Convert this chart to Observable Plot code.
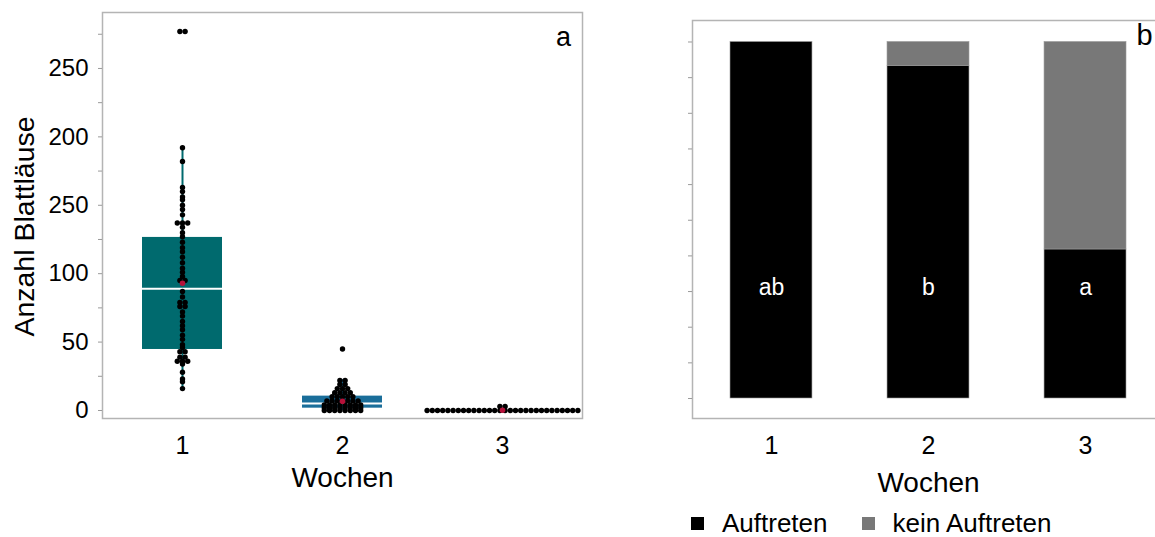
<!DOCTYPE html>
<html>
<head>
<meta charset="utf-8">
<script src="https://cdn.jsdelivr.net/npm/d3@7"></script>
<script src="https://cdn.jsdelivr.net/npm/@observablehq/plot@0.6"></script>
<style>
  html, body { margin: 0; padding: 0; background: #fff; overflow: hidden; width: 1155px; height: 537px; }
  #left { position: absolute; left: 0; top: 0; width: 600px; }
  #right { position: absolute; left: 620px; top: 0; width: 544px; }
  #left svg, #right svg { max-width: none !important; }
  #legend { position: absolute; left: 691px; top: 507px; width: 460px; }
  #legend svg { margin-right: 18px !important; }
  #legend span { margin-right: 34px !important; }
</style>
</head>
<body>
<div id="left"></div>
<div id="right"></div>
<div id="legend"></div>
<script>
const font = "'Liberation Sans', Arial, sans-serif";

// ---- Panel a: aphid counts per plant, by week ----
const weeks = [1, 2, 3];
const week1Counts = [277, 277, 192, 182, 163, 160, 156, 154, 150, 147, 143, 137, 137, 137, 134, 130,
  127, 123, 119, 116, 112, 108, 104, 101, 98, 95, 95, 87, 83, 79, 79, 76, 76, 72, 69, 65, 62, 59,
  55, 52, 48, 46, 43, 43, 39, 39, 36, 36, 36, 34, 28, 23, 21, 16];
const week2Counts = [45, 22, 22, 19, 19, 16, 16, 16, 13, 13, 13, 13, 10, 10, 10, 10, 10,
  7, 7, 7, 7, 7, 7, 7, 4, 4, 4, 4, 4, 4, 4, 4, 2, 2, 2, 2, 2, 2, 2, 2, 0, 0, 0, 0, 0, 0, 0, 0];
const week3Counts = [3, 3, 0, 0, 0, 0, 0, 0, 0, 0, 0, 0, 0, 0, 0, 0, 0, 0, 0, 0, 0, 0, 0, 0,
  0, 0, 0, 0, 0, 0, 0, 0];

// box statistics per week
const boxQ1 = [44.6, 1.7, 0];
const boxMedian = [89, 5.1, 0];
const boxQ3 = [126.5, 10.5, 0];
const whiskerLow = [16, 0, 0];
const whiskerHigh = [192, 22.5, 0];
const meanCounts = [93, 6.8, 0.2];
const boxColors = ["#006a6e", "#1a6e9a", "#1a6e9a"];

const yTicks = [0, 50, 100, 150, 200, 250];
const yTickLabels = ["0", "50", "100", "250", "200", "250"];
const yMinorTicks = [25, 75, 125, 175, 225, 275];

// ---- Panel b: share of plants with / without aphids ----
const statuses = ["Auftreten", "kein Auftreten"];
const statusColors = ["#000000", "#787878"];
const occurrencePct = [100, 93.3, 41.8];
const noOccurrencePct = [0, 6.7, 58.2];
const groupLetters = ["ab", "b", "a"];
const pctTicks = [0, 10, 20, 30, 40, 50, 60, 70, 80, 90, 100];

// lay equal counts side by side around the week position
function stackDots(counts, week, step) {
  const out = [];
  for (const [v, arr] of d3.group(counts, c => c)) {
    arr.forEach((_, k) => out.push({week, count: v, x: week + (k - (arr.length - 1) / 2) * step}));
  }
  return out;
}
const dotStep = 0.0325;
const dots = [
  ...stackDots(week1Counts, 1, dotStep),
  ...stackDots(week2Counts, 2, dotStep),
  ...stackDots(week3Counts, 3, dotStep)
];
const boxes = weeks.map((w, i) => ({
  week: w, q1: boxQ1[i], median: boxMedian[i], q3: boxQ3[i],
  lo: whiskerLow[i], hi: whiskerHigh[i], mean: meanCounts[i], color: boxColors[i]
}));
const visibleBoxes = boxes.filter(b => b.q3 > b.q1);

const left = Plot.plot({
  width: 600, height: 500,
  marginLeft: 102, marginRight: 18, marginTop: 12, marginBottom: 82,
  x: {domain: [0.5, 3.5]},
  y: {domain: [-5.85, 290.9]},
  color: {type: "identity"},
  style: {fontFamily: font, fontSize: "24px", color: "#000", background: "#fff", maxWidth: "none"},
  marks: [
    Plot.frame({stroke: "#b4b4b4", strokeWidth: 1.5}),
    Plot.axisY({ticks: yTicks, tickFormat: d => yTickLabels[yTicks.indexOf(d)], tickSize: 4,
      tickPadding: 10, stroke: "#9a9a9a", fontSize: 24, label: null}),
    Plot.axisY({ticks: yMinorTicks, tickFormat: () => "", tickSize: 4, stroke: "#9a9a9a", label: null}),
    Plot.axisX({ticks: weeks, tickFormat: d => String(d), tickSize: 0, tickPadding: 18,
      fontSize: 25, label: null}),
    Plot.rect(visibleBoxes, {x1: d => d.week - 0.25, x2: d => d.week + 0.25, y1: "q1", y2: "q3", fill: "color"}),
    Plot.ruleX(visibleBoxes, {x: "week", y1: "lo", y2: "hi", stroke: "color", strokeWidth: 2}),
    Plot.ruleY(visibleBoxes, {y: "median", x1: d => d.week - 0.25, x2: d => d.week + 0.25, stroke: "#fff", strokeWidth: 2}),
    Plot.dot(dots, {x: "x", y: "count", r: 2.7, fill: "#000", stroke: "none"}),
    Plot.dot(boxes, {x: "week", y: "mean", r: 2.8, fill: "#b5123a", stroke: "none"}),
    Plot.text(["Anzahl Blattläuse"], {text: d => d, frameAnchor: "left", rotate: -90, dx: -78, dy: 11,
      fontSize: 28.5, textAnchor: "middle", lineAnchor: "middle"}),
    Plot.text(["Wochen"], {text: d => d, frameAnchor: "bottom", dy: 60, fontSize: 28, lineAnchor: "middle"}),
    Plot.text(["a"], {text: d => d, frameAnchor: "top-right", dx: -19, dy: 25, fontSize: 27,
      textAnchor: "middle", lineAnchor: "middle"})
  ]
});
document.getElementById("left").append(left);

const bars = weeks.flatMap((w, i) => [
  {week: w, status: statuses[0], pct: occurrencePct[i]},
  {week: w, status: statuses[1], pct: noOccurrencePct[i]}
]);
const letters = weeks.map((w, i) => ({week: w, letter: groupLetters[i]}));

const right = Plot.plot({
  width: 544, height: 500,
  marginLeft: 72, marginRight: 0, marginTop: 20, marginBottom: 82,
  x: {domain: weeks, paddingInner: 0.478, paddingOuter: 0.242, round: false},
  y: {domain: [-5.61, 106.03]},
  color: {domain: statuses, range: statusColors},
  style: {fontFamily: font, fontSize: "25px", color: "#000", background: "#fff", maxWidth: "none"},
  marks: [
    Plot.frame({stroke: "#b4b4b4", strokeWidth: 1.5}),
    Plot.axisY({ticks: pctTicks, tickFormat: () => "", tickSize: 4, stroke: "#9a9a9a", label: null}),
    Plot.axisX({tickSize: 0, tickPadding: 18, fontSize: 25, label: null}),
    Plot.barY(bars, {x: "week", y: "pct", fill: "status", stroke: "#9a9a9a", strokeWidth: 0.6}),
    Plot.text(letters, {x: "week", y: 31, text: "letter", fill: "#fff", fontSize: 23, lineAnchor: "middle"}),
    Plot.text(["Wochen"], {text: d => d, frameAnchor: "bottom", dy: 65, fontSize: 28, lineAnchor: "middle"}),
    Plot.text(["b"], {text: d => d, frameAnchor: "top-right", dx: -20, dy: 15, fontSize: 29,
      textAnchor: "middle", lineAnchor: "middle"})
  ]
});
document.getElementById("right").append(right);

const legend = Plot.legend({
  color: {type: "ordinal", domain: statuses, range: statusColors},
  legend: "swatches",
  swatchSize: 13,
  style: {fontSize: "26px", fontFamily: font, color: "#000"}
});
document.getElementById("legend").append(legend);
</script>
</body>
</html>
